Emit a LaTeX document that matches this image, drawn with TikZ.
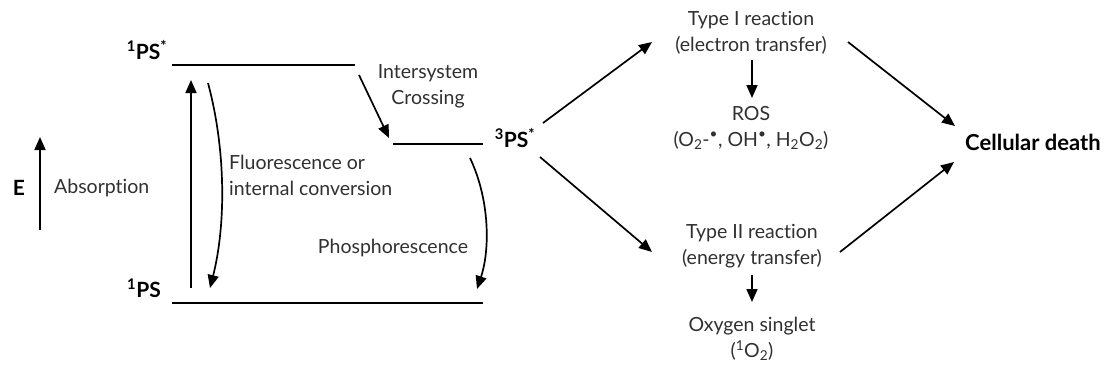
\documentclass[tikz,border=0pt]{standalone}
\usepackage{fontspec}
\setmainfont{Lato}[Ligatures=NoCommon]
\usetikzlibrary{arrows.meta}
\definecolor{txt}{HTML}{303030}
\begin{document}
\begin{tikzpicture}[x=1pt,y=-1pt,
  every node/.style={font=\fontsize{19.5}{26}\selectfont, text=txt, inner sep=0pt},
  lbl/.style={font=\bfseries\fontsize{21}{24}\selectfont, text=black},
  lvl/.style={line width=1.7pt},
  arr/.style={line width=1.7pt, -{Triangle[length=13pt,width=11pt]}},
  multi/.style={align=center}
]
\useasboundingbox (0,0) rectangle (1109,372);
% levels
\coordinate (s1a) at (172,65);  \coordinate (s1b) at (355,65);
\coordinate (t1a) at (393,144); \coordinate (t1b) at (483,144);
\coordinate (s0a) at (172,303); \coordinate (s0b) at (483,303);
\draw[lvl] (s1a) -- (s1b);
\draw[lvl] (t1a) -- (t1b);
\draw[lvl] (s0a) -- (s0b);
% labels
\node[lbl] (S1) at (147,50) {\textsuperscript{1}PS\textsuperscript{*}};
\node[lbl] (S0) at (144,288) {\textsuperscript{1}PS};
\node[lbl] (T1) at (515,138) {\textsuperscript{3}PS\textsuperscript{*}};
\node[lbl] (E) at (19,188) {E};
\coordinate (Ea) at (40,230); \coordinate (Eb) at (40,137);
\draw[arr] (Ea) -- (Eb);
\node[anchor=west] (abs) at (54,188) {Absorption};
% absorption arrow
\coordinate (ab0) at (191,288); \coordinate (ab1) at (191,80);
\draw[arr] (ab0) -- (ab1);
% fluorescence
\coordinate (fl0) at (208,83); \coordinate (fl1) at (210,288);
\draw[arr] (fl0) .. controls (226,150) and (226,225) .. (fl1);
\node[anchor=west, align=left] (fl) at (229,175) {Fluorescence or\\internal conversion};
% ISC
\coordinate (isc0) at (359,75); \coordinate (isc1) at (389,138);
\draw[arr] (isc0) -- (isc1);
\node[multi] (isc) at (428,86) {Intersystem\\Crossing};
% phosphorescence
\coordinate (ph0) at (470,158); \coordinate (ph1) at (477,289);
\draw[arr] (ph0) .. controls (490,200) and (490,250) .. (ph1);
\node (ph) at (393,248) {Phosphorescence};
% right side
\node[multi] (t1) at (751,33) {Type I reaction\\(electron transfer)};
\node[multi] (ros) at (751,128) {ROS\\(O\textsubscript{2}-\textsuperscript{•}, OH\textsuperscript{•}, H\textsubscript{2}O\textsubscript{2})};
\node[multi] (t2) at (752,246) {Type II reaction\\(energy transfer)};
\node[multi] (ox) at (752,339) {Oxygen singlet\\(\textsuperscript{1}O\textsubscript{2})};
\node[lbl, anchor=west] (cd) at (965,142) {\fontsize{22}{24}\selectfont Cellular death};
\coordinate (a1s) at (543,123); \coordinate (a1e) at (652,42);
\draw[arr] (a1s) -- (a1e);
\coordinate (a2s) at (540,157); \coordinate (a2e) at (652,252);
\draw[arr] (a2s) -- (a2e);
\coordinate (a3s) at (752,60); \coordinate (a3e) at (752,98);
\draw[arr] (a3s) -- (a3e);
\coordinate (a4s) at (752,275); \coordinate (a4e) at (752,302);
\draw[arr] (a4s) -- (a4e);
\coordinate (a5s) at (848,42); \coordinate (a5e) at (955,126);
\draw[arr] (a5s) -- (a5e);
\coordinate (a6s) at (840,252); \coordinate (a6e) at (954,162);
\draw[arr] (a6s) -- (a6e);
\end{tikzpicture}
\end{document}
